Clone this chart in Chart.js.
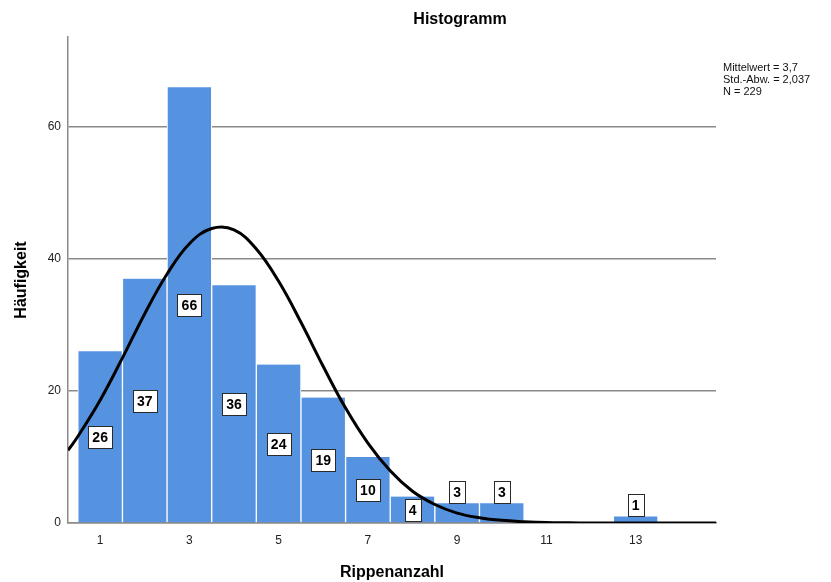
<!DOCTYPE html>
<html>
<head>
<meta charset="utf-8">
<script src="https://cdn.jsdelivr.net/npm/chart.js@4"></script>
<style>
  body { margin: 0; background: #fff; }
  #wrap { width: 831px; height: 582px; position: relative; }
</style>
</head>
<body>
<div id="wrap"><canvas id="myChart"></canvas></div>
<script>
// Rippenanzahl (bins) and Häufigkeit (counts)
var rippen = [1, 2, 3, 4, 5, 6, 7, 8, 9, 10, 11, 12, 13];
var haeufigkeit = [26, 37, 66, 36, 24, 19, 10, 4, 3, 3, 0, 0, 1];

// Normal curve
var kurveX = [0.28, 0.5, 1, 1.5, 2, 2.5, 3, 3.5, 4, 4.5, 5, 5.5, 6, 6.5, 7, 7.5, 8, 8.5, 9, 9.5, 10, 10.5, 11, 11.5, 12, 12.5, 13, 13.5, 14, 14.8];
var kurveY = [11.0, 13.1, 18.6, 25.0, 31.7, 37.7, 42.3, 44.6, 44.4, 41.5, 36.6, 30.4, 23.7, 17.4, 12.1, 7.9, 4.8, 2.8, 1.5, 0.8, 0.4, 0.2, 0.07, 0.03, 0.01, 0, 0, 0, 0, 0];

var xTicks = [1, 3, 5, 7, 9, 11, 13];
var yTicks = [0, 20, 40, 60];
var statsText = ['Mittelwert = 3,7', 'Std.-Abw. = 2,037', 'N = 229'];

var FONT = '"Liberation Sans", Arial, sans-serif';
var axisGrey = '#8a8a8a';

// value boxes on the bars, title and stats text
var extrasPlugin = {
  id: 'extras',
  afterDatasetsDraw: function(chart) {
    var ctx = chart.ctx;
    var xs = chart.scales.x, ys = chart.scales.y;
    ctx.save();
    ctx.font = 'bold 14px ' + FONT;
    ctx.textAlign = 'center';
    ctx.textBaseline = 'middle';
    for (var i = 0; i < rippen.length; i++) {
      var v = haeufigkeit[i];
      if (!v) continue;
      var px = xs.getPixelForValue(rippen[i]);
      var py = ys.getPixelForValue(v < 4 ? v + 1.7 : v / 2);
      var txt = String(v);
      var w = Math.round(ctx.measureText(txt).width + 8);
      var h = 22;
      var bx = Math.round(px - w / 2) + 0.5, by = Math.round(py - h / 2) + 0.5;
      ctx.fillStyle = '#fff';
      ctx.fillRect(bx, by, w, h);
      ctx.strokeStyle = '#2a2a2a';
      ctx.lineWidth = 1;
      ctx.strokeRect(bx, by, w, h);
      ctx.fillStyle = '#000';
      ctx.fillText(txt, px, py + 1);
    }
    ctx.restore();
  },
  afterDraw: function(chart) {
    var ctx = chart.ctx;
    ctx.save();
    ctx.fillStyle = '#000';
    ctx.font = 'bold 16px ' + FONT;
    ctx.textAlign = 'center';
    ctx.textBaseline = 'middle';
    ctx.fillText('Histogramm', 460, 20);
    ctx.font = '11px ' + FONT;
    ctx.textAlign = 'left';
    ctx.fillStyle = '#111';
    statsText.forEach(function(t, i) {
      ctx.fillText(t, 723, 68 + i * 12);
    });
    ctx.restore();
  }
};

window.onload = function() {
  var ctx = document.getElementById('myChart');
  new Chart(ctx, {
    type: 'bar',
    data: {
      datasets: [{
        type: 'line',
        data: kurveX.map(function(x, i) { return { x: x, y: kurveY[i] }; }),
        borderColor: '#000',
        borderWidth: 3,
        pointRadius: 0,
        tension: 0.4,
        fill: false,
        order: 0
      }, {
        type: 'bar',
        data: rippen.map(function(r, i) { return { x: r, y: haeufigkeit[i] }; }),
        backgroundColor: '#5593e1',
        borderColor: '#ffffff',
        borderWidth: { left: 1, right: 1, top: 0, bottom: 0 },
        borderSkipped: false,
        barPercentage: 1,
        categoryPercentage: 1,
        order: 1
      }]
    },
    options: {
      responsive: true,
      maintainAspectRatio: false,
      animation: false,
      layout: { padding: { top: 37, right: 115, left: 0, bottom: 0 } },
      plugins: {
        legend: { display: false },
        tooltip: { enabled: false }
      },
      scales: {
        x: {
          type: 'linear',
          offset: false,
          min: 0.28,
          max: 14.8,
          afterBuildTicks: function(scale) {
            scale.ticks = xTicks.map(function(v) { return { value: v }; });
          },
          afterFit: function(scale) { scale.height = 59; },
          grid: { display: false },
          border: { display: true, color: axisGrey, width: 1.5 },
          ticks: { color: '#222', font: { family: FONT, size: 12 }, padding: 2, maxRotation: 0 },
          title: {
            display: true,
            text: 'Rippenanzahl',
            color: '#000',
            font: { family: FONT, size: 16, weight: 'bold' },
            padding: { top: 0, bottom: 0 }
          }
        },
        y: {
          min: 0,
          max: 73.6,
          afterBuildTicks: function(scale) {
            scale.ticks = yTicks.map(function(v) { return { value: v }; });
          },
          afterFit: function(scale) { scale.width = 68; },
          grid: { color: axisGrey, lineWidth: 1.5, drawTicks: false },
          border: { display: true, color: axisGrey, width: 1.5 },
          ticks: { color: '#222', font: { family: FONT, size: 12 }, padding: 7 },
          title: {
            display: true,
            text: 'Häufigkeit',
            color: '#000',
            font: { family: FONT, size: 16, weight: 'bold' },
            padding: { top: 12, bottom: 0 }
          }
        }
      }
    },
    plugins: [extrasPlugin]
  });
};
</script>
</body>
</html>
